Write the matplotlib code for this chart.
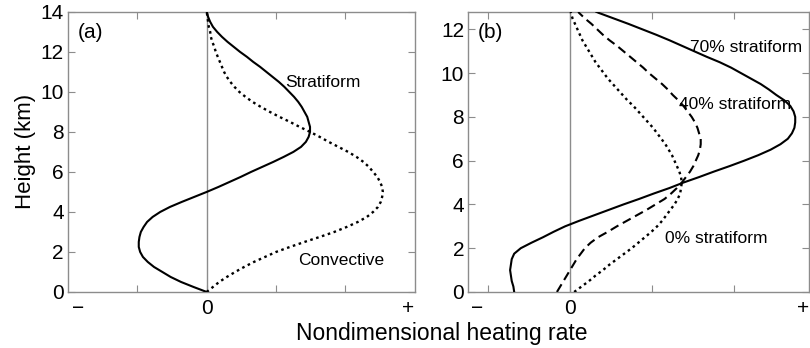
import matplotlib
matplotlib.use("Agg")
import matplotlib.pyplot as plt

plt.rcParams['font.family'] = ['Liberation Sans', 'DejaVu Sans']

# ---- panel (a): idealized convective and stratiform heating profiles ----
# heights every 0.25 km from 0 to 14 km
height_a = [i * 0.25 for i in range(57)]
stratiform = [0.00, -0.19, -0.37, -0.52, -0.64, -0.76, -0.85, -0.92, -0.96, -0.98,
              -0.98, -0.97, -0.95, -0.91, -0.86, -0.78, -0.67, -0.53, -0.36, -0.18,
              0.00, 0.17, 0.33, 0.49, 0.64, 0.80, 0.96, 1.11, 1.25, 1.36,
              1.43, 1.47, 1.49, 1.49, 1.47, 1.45, 1.41, 1.37, 1.32, 1.26,
              1.19, 1.12, 1.04, 0.95, 0.86, 0.77, 0.67, 0.58, 0.48, 0.39,
              0.30, 0.22, 0.15, 0.09, 0.05, 0.02, 0.00]
convective = [0.00, 0.09, 0.18, 0.29, 0.41, 0.54, 0.68, 0.84, 1.00, 1.20,
              1.41, 1.63, 1.84, 2.02, 2.18, 2.31, 2.40, 2.47, 2.51, 2.53,
              2.54, 2.53, 2.50, 2.46, 2.40, 2.34, 2.26, 2.16, 2.04, 1.90,
              1.76, 1.63, 1.49, 1.34, 1.20, 1.05, 0.91, 0.78, 0.66, 0.56,
              0.47, 0.40, 0.34, 0.29, 0.25, 0.22, 0.19, 0.16, 0.13, 0.11,
              0.08, 0.06, 0.05, 0.03, 0.02, 0.01, 0.00]

# ---- panel (b): mixtures with different stratiform fractions ----
# heights every 0.25 km from 0 to 12.75 km, then the top of the profile
height_b = [i * 0.25 for i in range(52)] + [12.8]
strat70 = [-0.68, -0.69, -0.71, -0.72, -0.73, -0.72, -0.71, -0.68, -0.60, -0.47,
           -0.33, -0.20, -0.06, 0.11, 0.29, 0.47, 0.65, 0.84, 1.02, 1.21,
           1.38, 1.57, 1.75, 1.94, 2.12, 2.29, 2.44, 2.56, 2.65, 2.70,
           2.73, 2.74, 2.74, 2.72, 2.68, 2.61, 2.51, 2.42, 2.32, 2.20,
           2.08, 1.96, 1.82, 1.66, 1.51, 1.36, 1.21, 1.05, 0.88, 0.71,
           0.53, 0.35, 0.32]
strat40 = [-0.16, -0.12, -0.08, -0.04, 0.00, 0.04, 0.08, 0.13, 0.18, 0.25,
           0.34, 0.46, 0.57, 0.69, 0.81, 0.93, 1.04, 1.15, 1.23, 1.30,
           1.36, 1.41, 1.46, 1.50, 1.53, 1.56, 1.58, 1.59, 1.59, 1.57,
           1.55, 1.52, 1.48, 1.43, 1.38, 1.32, 1.25, 1.19, 1.12, 1.04,
           0.96, 0.89, 0.81, 0.73, 0.65, 0.57, 0.48, 0.40, 0.33, 0.26,
           0.18, 0.11, 0.10]
strat0 = [0.05, 0.14, 0.23, 0.31, 0.40, 0.48, 0.57, 0.66, 0.75, 0.83,
          0.91, 0.99, 1.06, 1.12, 1.17, 1.22, 1.27, 1.31, 1.34, 1.35,
          1.36, 1.35, 1.33, 1.30, 1.27, 1.24, 1.20, 1.16, 1.11, 1.06,
          1.01, 0.95, 0.89, 0.83, 0.77, 0.70, 0.64, 0.58, 0.52, 0.46,
          0.41, 0.36, 0.31, 0.27, 0.23, 0.19, 0.15, 0.12, 0.09, 0.06,
          0.03, 0.01, 0.01]

ticks_a_y = [0, 2, 4, 6, 8, 10, 12, 14]
ticks_b_y = [0, 2, 4, 6, 8, 10, 12]
ticks_x = [-1, 0, 1, 2]

SPINE = '#8c8c8c'
DOT = (0, (1.1, 1.5))
DASH = (0, (4.3, 2.4))
LW = 1.5

fig = plt.figure(figsize=(8.10, 3.48), dpi=100)
ax_a = fig.add_axes([0.084, 0.161, 0.428, 0.805])
ax_b = fig.add_axes([0.578, 0.161, 0.421, 0.805])


def style_axes(ax, yticks, minus_x, plus_x):
    for s in ax.spines.values():
        s.set_color(SPINE)
        s.set_linewidth(1.0)
    ax.set_yticks(yticks)
    ax.set_xticks(ticks_x, ['', '0', '', ''])
    ax.set_xticks([minus_x, plus_x], ['\u2212', '+'], minor=True)
    ax.tick_params(which='major', direction='in', length=5, width=0.8,
                   color=SPINE, top=True, right=True, labelsize=15, pad=3)
    ax.tick_params(axis='x', which='major', pad=5)
    ax.tick_params(axis='x', which='minor', length=0, labelsize=15, pad=5)
    ax.tick_params(axis='y', which='minor', left=False, right=False)
    ax.axvline(0, color='#8c8c8c', lw=1.0, zorder=1)


# panel (a)
ax_a.plot(stratiform, height_a, color='black', lw=LW, zorder=3)
ax_a.plot(convective, height_a, color='black', lw=1.7, ls=DOT, zorder=3)
ax_a.set_xlim(-2, 3)
ax_a.set_ylim(0, 14)
style_axes(ax_a, ticks_a_y, -1.86, 2.9)
ax_a.text(0.027, 0.96, '(a)', transform=ax_a.transAxes, fontsize=15, va='top')
ax_a.text(1.13, 10.25, 'Stratiform', fontsize=12.5)
ax_a.text(1.32, 1.35, 'Convective', fontsize=12.5)
ax_a.set_ylabel('Height (km)', fontsize=16, labelpad=3)

# panel (b)
ax_b.plot(strat70, height_b, color='black', lw=LW, zorder=3)
ax_b.plot(strat40, height_b, color='black', lw=LW, ls=DASH, zorder=3)
ax_b.plot(strat0, height_b, color='black', lw=1.7, ls=DOT, zorder=3)
ax_b.set_xlim(-1.24, 2.91)
ax_b.set_ylim(0, 12.8)
style_axes(ax_b, ticks_b_y, -1.13, 2.83)
ax_b.text(0.027, 0.96, '(b)', transform=ax_b.transAxes, fontsize=15, va='top')
ax_b.text(1.46, 10.95, '70% stratiform', fontsize=12.5)
ax_b.text(1.32, 8.36, '40% stratiform', fontsize=12.5)
ax_b.text(1.16, 2.26, '0% stratiform', fontsize=12.5)

fig.text(0.545, 0.023, 'Nondimensional heating rate', ha='center', va='baseline',
         fontsize=16.5)

fig.savefig('out.png', dpi=100)
